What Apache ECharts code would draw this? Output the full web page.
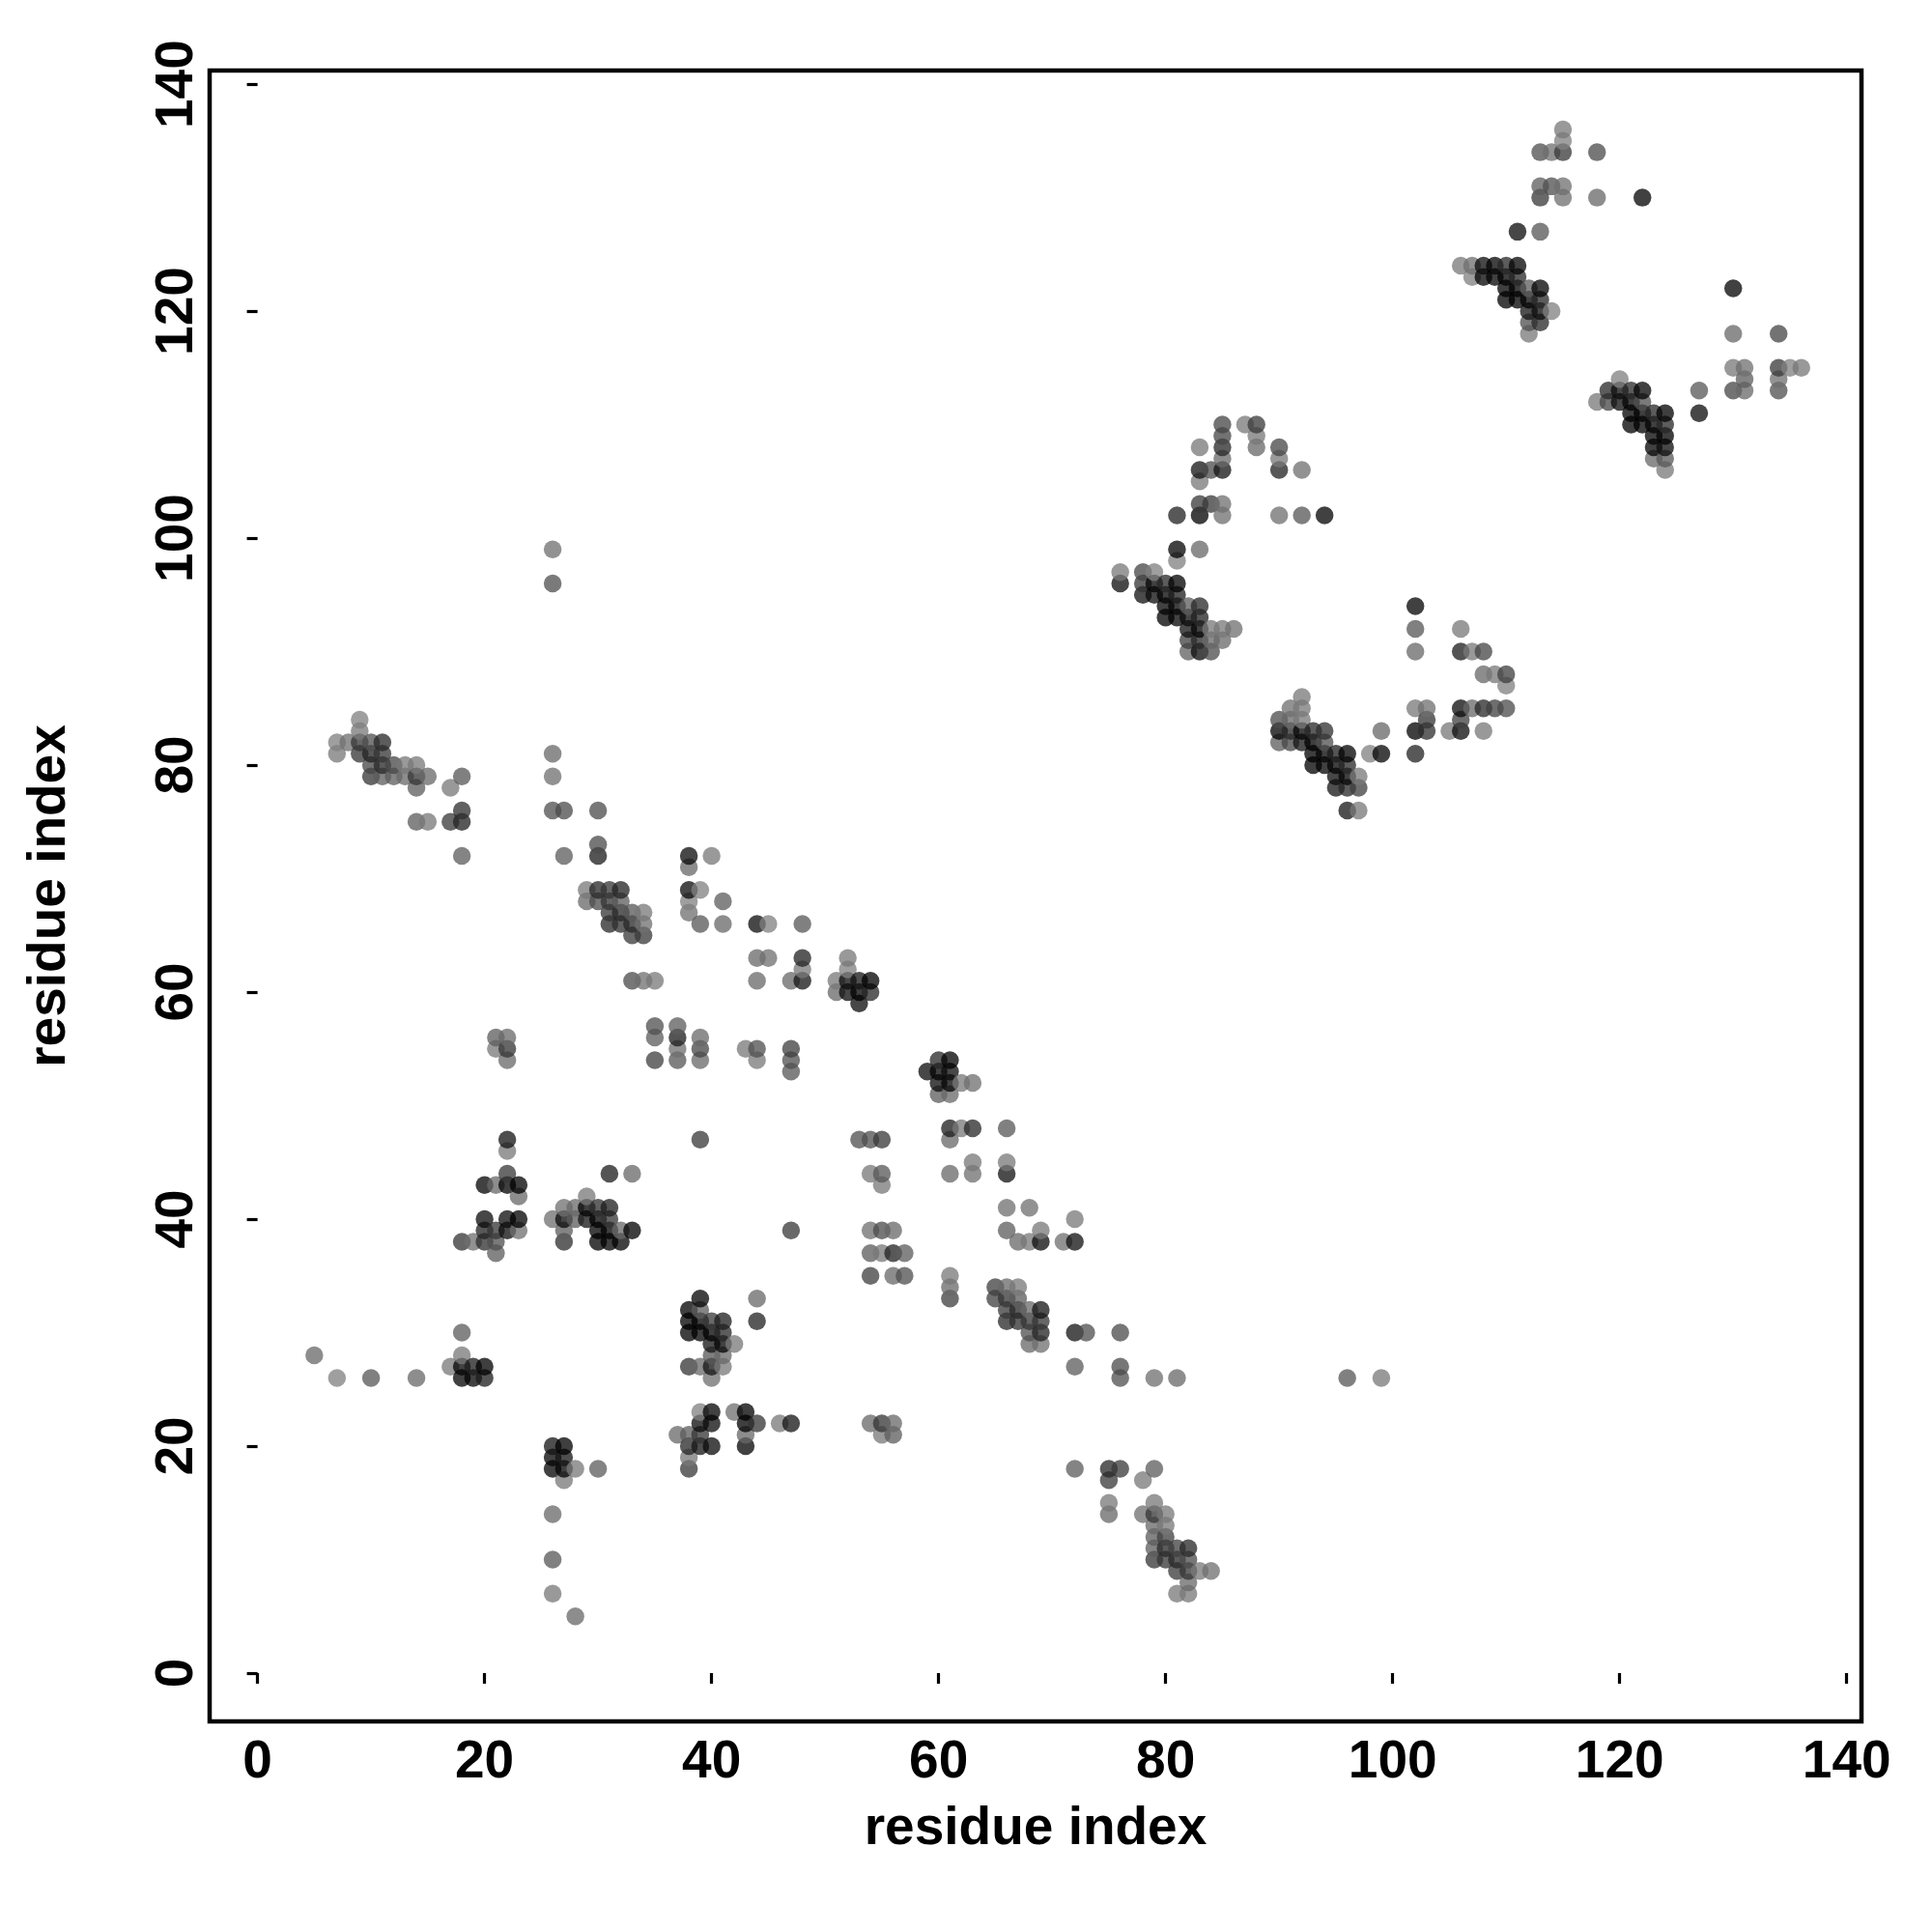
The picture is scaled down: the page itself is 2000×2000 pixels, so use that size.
<!DOCTYPE html>
<html><head><meta charset="utf-8">
<style>html,body{margin:0;padding:0;background:#fff}#c{width:2000px;height:2000px}</style>
<script src="https://cdn.jsdelivr.net/npm/echarts@6/dist/echarts.min.js"></script>
</head><body><div id="c"></div>
<script>
const xTicks=[0,20,40,60,80,100,120,140];
const yTicks=[0,20,40,60,80,100,120,140];
const axisName="residue index";
// each contact: [residue i, residue j, grey level seen on paper]
const clusterLowLeft=[[5,28,0x70],[7,26,0x88],[10,26,0x60],[14,26,0x70],[17,27,0x80],[18,30,0x66],[18,28,0x80],[18,27,0x11],[19,27,0x2a],[20,27,0x0f],[18,26,0x11],[19,26,0x11],[20,26,0x2a],[26,99,0x77],[26,96,0x5a],[26,14,0x70],[26,10,0x60],[26,7,0x80],[28,5,0x70],[30,18,0x66],[26,20,0x22],[27,20,0x0f],[26,19,0x11],[27,19,0x22],[26,18,0x11],[27,18,0x11],[28,18,0x80],[27,17,0x80]];
const helix20_40=[[22,47,0x22],[22,46,0x80],[20,43,0x11],[21,43,0x70],[22,44,0x44],[22,43,0x0a],[23,43,0x0a],[23,42,0x70],[20,40,0x1a],[22,40,0x1a],[23,40,0x0a],[20,39,0x2e],[21,39,0x40],[22,39,0x1a],[23,39,0x77],[18,38,0x40],[19,38,0x77],[20,38,0x3a],[21,38,0x5a],[21,37,0x66],[31,44,0x2a],[33,44,0x70],[29,42,0x80],[27,41,0x77],[28,41,0x70],[29,41,0x0f],[30,41,0x3a],[31,41,0x2a],[26,40,0x77],[27,40,0x1a],[28,40,0x66],[29,40,0x22],[30,40,0x0a],[31,40,0x40],[27,39,0x66],[30,39,0x0a],[31,39,0x0a],[32,39,0x70],[33,39,0x0f],[27,38,0x3a],[30,38,0x0a],[31,38,0x0a],[32,38,0x11],[39,47,0x44],[47,39,0x44]];
const cluster38_47=[[39,33,0x11],[38,32,0x0a],[39,32,0x66],[38,31,0x0a],[39,31,0x0a],[40,31,0x44],[41,31,0x2a],[44,33,0x70],[44,31,0x2e],[38,30,0x0a],[39,30,0x0a],[40,30,0x0a],[41,30,0x33],[40,29,0x22],[41,29,0x11],[42,29,0x80],[40,28,0x60],[41,28,0x70],[38,27,0x40],[39,27,0x70],[40,27,0x22],[41,27,0x80],[40,26,0x77],[39,23,0x88],[40,23,0x11],[42,23,0x77],[43,23,0x0a],[39,22,0x1a],[40,22,0x1a],[43,22,0x0a],[44,22,0x40],[46,22,0x80],[47,22,0x22],[37,21,0x70],[38,21,0x66],[39,21,0x40],[43,21,0x70],[38,20,0x33],[39,20,0x22],[40,20,0x1a],[43,20,0x11],[38,19,0x80],[38,18,0x44],[54,22,0x70],[55,22,0x40],[56,22,0x70],[55,21,0x80],[56,21,0x66]];
const strand7_18=[[9,84,0x88],[9,83,0x80],[7,82,0x88],[8,82,0x77],[9,82,0x40],[10,82,0x5a],[11,82,0x33],[7,81,0x80],[9,81,0x40],[10,81,0x2e],[11,81,0x40],[10,80,0x50],[11,80,0x33],[12,80,0x50],[13,80,0x80],[14,80,0x80],[10,79,0x40],[11,79,0x66],[12,79,0x66],[13,79,0x70],[14,79,0x40],[15,79,0x70],[14,78,0x66],[18,79,0x60],[17,78,0x80],[14,75,0x66],[15,75,0x80],[17,75,0x44],[18,76,0x3a],[18,75,0x2e],[18,72,0x66],[26,81,0x70],[26,79,0x77],[26,76,0x5a],[27,76,0x55],[30,76,0x55],[27,72,0x66],[30,73,0x55],[30,72,0x2a]];
const strand29_48=[[38,72,0x1a],[40,72,0x80],[38,71,0x70],[38,69,0x1a],[39,69,0x88],[38,68,0x88],[41,68,0x66],[38,67,0x77],[39,66,0x60],[41,66,0x70],[44,66,0x1a],[45,66,0x88],[48,66,0x60],[44,63,0x70],[45,63,0x77],[48,63,0x2e],[48,62,0x80],[44,61,0x70],[47,61,0x70],[48,61,0x22],[29,69,0x80],[30,69,0x33],[31,69,0x40],[32,69,0x2e],[29,68,0x70],[30,68,0x55],[31,68,0x40],[32,68,0x66],[31,67,0x40],[32,67,0x33],[33,67,0x60],[34,67,0x80],[31,66,0x33],[32,66,0x3a],[33,66,0x33],[34,66,0x77],[33,65,0x44],[34,65,0x44],[33,61,0x55],[34,61,0x77],[35,61,0x80]];
const middle21_47=[[21,56,0x66],[22,56,0x70],[21,55,0x80],[22,55,0x40],[22,54,0x70],[35,57,0x5a],[37,57,0x66],[35,56,0x66],[37,56,0x2a],[39,56,0x70],[37,55,0x77],[39,55,0x50],[35,54,0x4a],[37,54,0x60],[39,54,0x70],[43,55,0x80],[44,55,0x5a],[44,54,0x80],[47,55,0x4a],[47,54,0x5a],[47,53,0x60]];
const strand51_72=[[52,63,0x80],[52,62,0x88],[51,61,0x80],[51,60,0x70],[52,61,0x1a],[52,60,0x1a],[53,61,0x22],[53,60,0x0f],[53,59,0x1a],[54,61,0x0a],[54,60,0x33],[59,53,0x1a],[60,54,0x33],[61,54,0x0a],[60,53,0x11],[61,53,0x1a],[60,52,0x1a],[61,52,0x11],[62,52,0x80],[63,52,0x77],[60,51,0x66],[61,51,0x70],[61,48,0x2a],[62,48,0x80],[63,48,0x33],[66,48,0x60],[61,47,0x70],[63,45,0x80],[63,44,0x77],[61,44,0x70],[66,45,0x80],[66,44,0x1e],[53,47,0x5a],[54,47,0x5a],[55,47,0x44],[54,44,0x80],[55,44,0x60],[55,43,0x80],[54,39,0x77],[55,39,0x55],[56,39,0x70],[54,37,0x66],[55,37,0x80],[56,37,0x2e],[57,37,0x66],[54,35,0x4a],[56,35,0x70],[57,35,0x5a],[61,35,0x80],[61,34,0x70],[61,33,0x4a],[66,41,0x77],[68,41,0x77],[66,39,0x66],[67,38,0x70],[68,38,0x80],[69,39,0x80],[69,38,0x1a],[71,38,0x77],[72,38,0x1e],[72,40,0x80]];
const helix65_84=[[65,34,0x4a],[66,34,0x70],[67,34,0x80],[65,33,0x4a],[66,33,0x40],[67,33,0x66],[66,32,0x44],[67,32,0x33],[68,32,0x70],[69,32,0x22],[66,31,0x33],[67,31,0x3a],[68,31,0x40],[69,31,0x40],[68,30,0x5a],[69,30,0x2e],[68,29,0x70],[69,29,0x77],[72,30,0x22],[73,30,0x5a],[76,30,0x55],[72,27,0x66],[76,27,0x55],[76,26,0x5a],[79,26,0x77],[81,26,0x70],[96,26,0x60],[99,26,0x80],[72,18,0x66],[75,18,0x33],[76,18,0x44],[79,18,0x66],[75,17,0x44],[78,17,0x80],[75,15,0x80],[75,14,0x70],[79,15,0x80],[78,14,0x77],[79,14,0x40],[80,14,0x80],[79,13,0x70],[80,13,0x80],[79,12,0x66],[80,12,0x4a],[79,11,0x66],[80,11,0x33],[81,11,0x4a],[82,11,0x33],[79,10,0x40],[80,10,0x40],[81,10,0x33],[82,10,0x55],[81,9,0x44],[82,9,0x40],[83,9,0x80],[84,9,0x77],[82,8,0x70],[81,7,0x80],[82,7,0x80]];
const helix76_86=[[81,99,0x11],[81,98,0x88],[83,99,0x70],[76,97,0x80],[76,96,0x1a],[78,97,0x50],[78,96,0x40],[78,95,0x1e],[79,97,0x88],[79,96,0x11],[79,95,0x1a],[80,96,0x33],[80,95,0x11],[80,94,0x11],[80,93,0x0a],[81,96,0x0a],[81,95,0x2a],[81,94,0x11],[81,93,0x11],[82,94,0x66],[82,93,0x1a],[82,92,0x1f],[82,91,0x4a],[82,90,0x6a],[83,94,0x33],[83,93,0x2e],[83,92,0x11],[83,91,0x33],[83,90,0x1a],[84,92,0x80],[84,91,0x70],[84,90,0x55],[85,92,0x80],[85,91,0x70],[86,92,0x77]];
const loop81_94=[[85,110,0x50],[87,110,0x80],[88,110,0x44],[85,109,0x50],[88,109,0x80],[85,108,0x33],[83,108,0x80],[88,108,0x70],[90,108,0x50],[85,107,0x70],[90,107,0x80],[83,106,0x22],[84,106,0x55],[85,106,0x22],[90,106,0x2e],[92,106,0x77],[83,105,0x80],[83,103,0x44],[84,103,0x44],[85,103,0x77],[81,102,0x2e],[83,102,0x0f],[85,102,0x77],[90,102,0x77],[92,102,0x60],[94,102,0x11]];
const helix90_110=[[92,86,0x80],[91,85,0x77],[92,85,0x80],[90,84,0x55],[91,84,0x70],[92,84,0x80],[90,83,0x11],[91,83,0x33],[92,83,0x11],[93,83,0x33],[94,83,0x3a],[90,82,0x66],[91,82,0x50],[92,82,0x22],[93,82,0x0a],[94,82,0x5a],[93,81,0x0a],[94,81,0x11],[95,81,0x2a],[96,81,0x0f],[93,80,0x0a],[94,80,0x11],[95,80,0x11],[96,80,0x33],[95,79,0x1a],[96,79,0x11],[97,79,0x80],[95,78,0x22],[96,78,0x33],[97,78,0x4a],[96,76,0x22],[97,76,0x80],[99,83,0x70],[98,81,0x88],[99,81,0x11],[102,94,0x11],[102,92,0x60],[102,90,0x70],[102,85,0x80],[103,85,0x77],[103,84,0x40],[102,83,0x0f],[103,83,0x3a],[102,81,0x2e],[106,92,0x80],[106,90,0x2a],[107,90,0x80],[108,90,0x50],[108,88,0x70],[109,88,0x80],[110,88,0x4a],[110,87,0x88],[106,85,0x1a],[107,85,0x70],[108,85,0x33],[109,85,0x4a],[110,85,0x55],[106,84,0x4a],[105,83,0x80],[106,83,0x1a],[108,83,0x80]];
const helix106_118=[[115,136,0x80],[115,135,0x88],[113,134,0x5a],[114,134,0x77],[115,134,0x44],[118,134,0x55],[113,131,0x66],[114,131,0x5a],[115,131,0x77],[113,130,0x44],[115,130,0x77],[118,130,0x70],[122,130,0x11],[111,127,0x1a],[113,127,0x60],[106,124,0x80],[107,124,0x77],[108,124,0x1a],[109,124,0x11],[110,124,0x33],[111,124,0x11],[107,123,0x88],[108,123,0x11],[109,123,0x11],[110,123,0x0a],[111,123,0x33],[110,122,0x0a],[111,122,0x0a],[112,122,0x66],[113,122,0x11],[110,121,0x0a],[111,121,0x0a],[112,121,0x11],[113,121,0x33],[112,120,0x22],[113,120,0x1a],[114,120,0x88],[112,119,0x5a],[113,119,0x33],[112,118,0x80]];
const helix118_136=[[130,122,0x11],[130,118,0x70],[134,118,0x50],[130,115,0x80],[131,115,0x77],[131,114,0x66],[130,113,0x50],[131,113,0x70],[134,115,0x44],[135,115,0x88],[136,115,0x80],[134,114,0x77],[134,113,0x5a],[127,113,0x60],[127,111,0x1a],[120,114,0x88],[118,112,0x80],[119,113,0x33],[119,112,0x50],[120,113,0x1a],[120,112,0x1a],[121,113,0x33],[122,113,0x11],[121,112,0x11],[122,112,0x5a],[121,111,0x0a],[122,111,0x0a],[123,111,0x33],[124,111,0x0a],[121,110,0x0a],[122,110,0x0a],[123,110,0x11],[124,110,0x33],[123,109,0x11],[124,109,0x0a],[123,108,0x11],[124,108,0x1a],[123,107,0x70],[124,107,0x60],[124,106,0x80]];

const contacts=[].concat(clusterLowLeft,helix20_40,cluster38_47,strand7_18,strand29_48,middle21_47,strand51_72,helix65_84,helix76_86,loop81_94,helix90_110,helix106_118,helix118_136)
  .sort((a,b)=>a[0]-b[0]||a[1]-b[1]);

const FONT="Liberation Sans";
const ALPHA=0.94;
function fill(level){const c=Math.max(0,Math.round((level-255*(1-ALPHA))/ALPHA));return `rgba(${c},${c},${c},${ALPHA})`;}
const chart=echarts.init(document.getElementById('c'),null,{renderer:'canvas',width:2000,height:2000});
chart.setOption({
  animation:false,backgroundColor:'#fff',
  grid:{left:217,top:73,width:1710,height:1709,show:true,borderColor:'#000',borderWidth:4.5,backgroundColor:'transparent'},
  xAxis:{type:'value',min:-4.22,max:141.3,splitLine:{show:false},axisLine:{show:false},
    axisTick:{show:true,length:11,inside:false,lineStyle:{color:'#000',width:3.2},customValues:xTicks},
    axisLabel:{fontFamily:FONT,fontWeight:'bold',fontSize:55,color:'#000',margin:15,customValues:xTicks,showMinLabel:true,showMaxLabel:true,hideOverlap:false},
    name:axisName,nameLocation:'middle',nameGap:84,nameTextStyle:{fontFamily:FONT,fontWeight:'bold',fontSize:55,color:'#000'}},
  yAxis:{type:'value',min:-4.26,max:141.2,splitLine:{show:false},axisLine:{show:false},
    axisTick:{show:true,length:11,inside:false,lineStyle:{color:'#000',width:3.2},customValues:yTicks},
    axisLabel:{fontFamily:FONT,fontWeight:'bold',fontSize:55,color:'#000',rotate:90,margin:33,align:'center',verticalAlign:'middle',customValues:yTicks,showMinLabel:true,showMaxLabel:true,hideOverlap:false},
    name:axisName,nameLocation:'middle',nameGap:138,nameRotate:90,nameTextStyle:{fontFamily:FONT,fontWeight:'bold',fontSize:55,color:'#000'}},
  series:[{type:'scatter',symbol:'circle',symbolSize:18.5,large:false,progressive:0,
    data:contacts,
    encode:{x:0,y:1},
    itemStyle:{color:p=>fill(p.data[2]),borderWidth:0},
    emphasis:{disabled:true}}]
});
</script></body></html>
